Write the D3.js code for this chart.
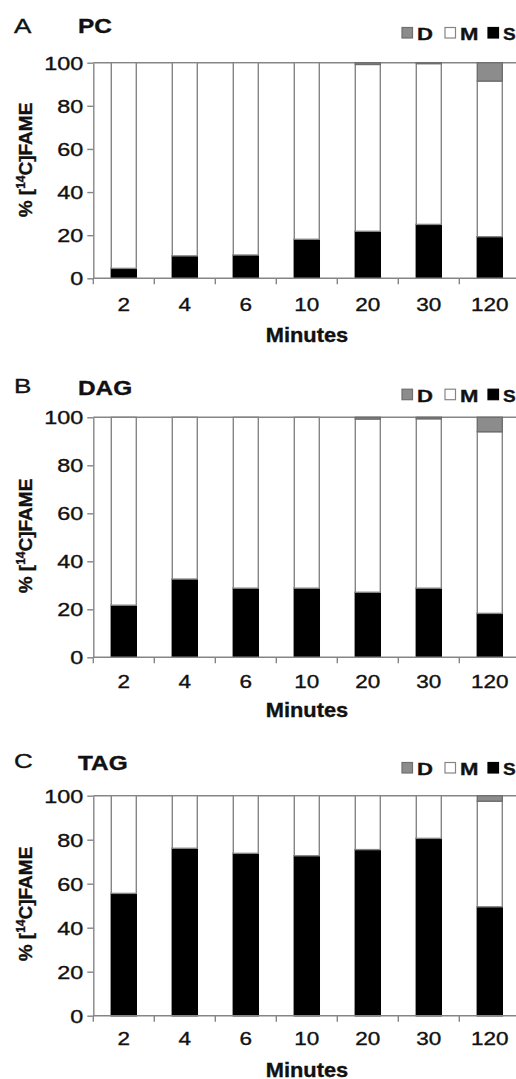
<!DOCTYPE html>
<html><head><meta charset="utf-8">
<script src="https://cdn.jsdelivr.net/npm/d3@7"></script>
<style>body{margin:0;background:#fff}svg{display:block}text{font-family:"Liberation Sans",Arial,sans-serif;fill:#111;stroke:#111;stroke-width:0.35px}</style>
</head><body>
<svg id="c" width="516" height="1079"></svg>
<script>
const categories = ["2","4","6","10","20","30","120"];
const yTicks = [0,20,40,60,80,100];
const seriesNames = ["D","M","S"];
const panelLetters = ["A","B","C"];
const panelTitles = ["PC","DAG","TAG"];
// values in % (stack order bottom->top: S, M, D)
const pcS  = [4.6,10.4,10.8,18.1,21.8,25.0,19.3];
const pcM  = [95.4,89.6,89.2,81.9,77.4,74.6,72.2];
const pcD  = [0,0,0,0,0.8,0.4,8.5];
const dagS = [21.7,32.6,28.8,28.8,27.1,28.8,18.3];
const dagM = [78.3,67.4,71.2,71.2,72.2,70.6,75.7];
const dagD = [0,0,0,0,0.7,0.6,6.0];
const tagS = [55.6,76.1,73.8,72.7,75.5,80.6,49.5];
const tagM = [44.4,23.9,26.2,27.3,24.5,19.4,48.0];
const tagD = [0,0,0,0,0,0,2.5];

const dataSets = [[pcS,pcM,pcD],[dagS,dagM,dagD],[tagS,tagM,tagD]];
const layout = [
  {top:62.7, bottom:278.3, labelY:33, legendY:40, tickY:311, minY:342, titleCY:160},
  {top:417.3, bottom:657.3, labelY:393, legendY:401.7, tickY:688, minY:717, titleCY:536},
  {top:795.7, bottom:1015.7, labelY:768, legendY:775, tickY:1045, minY:1076.5, titleCY:904}
];
const fills = {S:"#000", M:"#fff", D:"#8c8c8c"};
const strokes = {S:"#000", M:"#858585", D:"#6f6f6f"};
const gray = "#858585";
const x0 = 93.3, step = 61;
const svg = d3.select("#c");
const SX = 1.25;

function txt(g, x, y, s, size, weight, anchor, sx){
  return g.append("text").attr("transform",`translate(${x},${y}) scale(${sx},1)`)
    .attr("text-anchor",anchor||"start").attr("font-size",size).attr("font-weight",weight||"normal").text(s);
}

const x = d3.scaleBand().domain(categories).range([x0, x0+step*categories.length]).padding(0);
const barW = x.bandwidth()*0.41;

dataSets.forEach((ds, pi) => {
  const L = layout[pi];
  const g = svg.append("g");
  const y = d3.scaleLinear().domain([0,100]).range([L.bottom, L.top]);
  const [S,M,D] = ds;
  const rows = categories.map((c,i)=>({c, S:S[i], M:M[i], D:D[i]}));
  const stack = d3.stack().keys(["S","M","D"])(rows);

  // plot top border
  g.append("line").attr("x1",x0).attr("x2",516).attr("y1",y(100)).attr("y2",y(100)).attr("stroke",gray).attr("stroke-width",1.4);

  stack.forEach(layer => {
    g.selectAll(null).data(layer.filter(d=>d[1]-d[0]>0)).enter().append("rect")
      .attr("x", d => x(d.data.c) + (x.bandwidth()-barW)/2)
      .attr("width", barW)
      .attr("y", d => y(d[1]))
      .attr("height", d => y(d[0]) - y(d[1]))
      .attr("fill", fills[layer.key])
      .attr("stroke", strokes[layer.key])
      .attr("stroke-width", 1.4);
  });

  // y axis
  const ya = g.append("g").attr("transform",`translate(${x0},0)`)
    .call(d3.axisLeft(y).tickValues(yTicks).tickSize(6).tickSizeOuter(0));
  ya.select(".domain").attr("stroke",gray).attr("stroke-width",1.4);
  ya.selectAll(".tick line").attr("stroke",gray).attr("stroke-width",1.4);
  ya.selectAll(".tick text").attr("x",null).attr("dy",null)
    .attr("transform","translate(-10,6.4) scale(1.3,1)")
    .attr("font-size",18).attr("font-family","Liberation Sans, Arial, sans-serif").attr("fill","#111");

  // x axis
  g.append("line").attr("x1",x0).attr("x2",516).attr("y1",L.bottom).attr("y2",L.bottom).attr("stroke",gray).attr("stroke-width",1.4);
  const bounds = categories.map(c=>x(c)).concat([x.range()[1]]);
  g.selectAll(null).data(bounds).enter().append("line")
    .attr("x1",d=>d).attr("x2",d=>d).attr("y1",L.bottom).attr("y2",L.bottom+6)
    .attr("stroke",gray).attr("stroke-width",1.4);
  categories.forEach(c => txt(g, x(c)+x.bandwidth()/2, L.tickY, c, 18, "normal", "middle", SX));

  // titles
  txt(g, 307, L.minY, "Minutes", 19.5, "bold", "middle", 1.12);
  g.append("text").attr("transform",`translate(32,${L.titleCY}) rotate(-90)`)
    .attr("text-anchor","middle").attr("font-size",19).attr("font-weight","bold")
    .html('% [<tspan font-size="12" dy="-7">14</tspan><tspan dy="7">C]FAME</tspan>');
  txt(g, 14, L.labelY, panelLetters[pi], 20, "normal", "start", 1.3);
  txt(g, 78, L.labelY+(pi===0?0:2), panelTitles[pi], 20, "bold", "start", 1.22);

  // legend
  const lx = [402, 445, 488];
  seriesNames.forEach((s,i) => {
    g.append("rect").attr("x",lx[i]).attr("y",L.legendY-12.5).attr("width",10.5).attr("height",10.5)
      .attr("fill",fills[s]).attr("stroke",strokes[s]).attr("stroke-width",1.2);
    txt(g, lx[i]+15, L.legendY, s, 17, "bold", "start", s==="S"?1.12:1.3);
  });
});
</script>
</body></html>
